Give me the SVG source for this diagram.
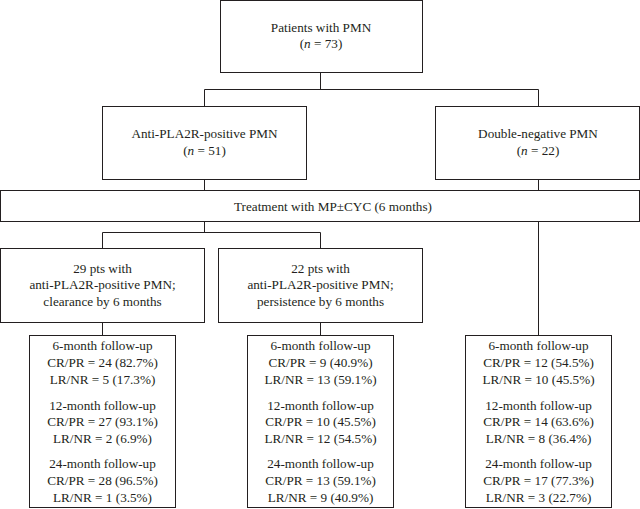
<svg xmlns="http://www.w3.org/2000/svg" width="640" height="509" viewBox="0 0 640 509">
<style>
.box{fill:#fff;stroke:#231f20;stroke-width:1}
.ln{fill:none;stroke:#231f20;stroke-width:1}
text{font-family:"Liberation Serif","Times New Roman",serif;font-size:13.2px;fill:#231f20;text-anchor:middle}
.i{font-style:italic}
</style>
<rect width="640" height="509" fill="#fff"/>
<g id="connectors" class="ln">
<path d="M320.5 72.5V89.5M204.5 106.5V89.5H538.5V106.5"/>
<path d="M204.5 179.5V190.5M538.5 179.5V190.5"/>
<path d="M204.5 221.5V232.5M102.5 248.5V232.5H320.5V248.5"/>
<path d="M102.5 322.5V335.5M320.5 322.5V335.5M538.5 221.5V335.5"/>
</g>
<g id="n_patients">
<rect class="box" x="220.5" y="0.5" width="202" height="72"/>
<text x="321" y="32">Patients with PMN</text>
<text x="321" y="48">(<tspan class="i">n</tspan> = 73)</text>
</g>
<g id="n_anti">
<rect class="box" x="102.5" y="106.5" width="204" height="73"/>
<text x="204.5" y="138">Anti-PLA2R-positive PMN</text>
<text x="204.5" y="155">(<tspan class="i">n</tspan> = 51)</text>
</g>
<g id="n_double">
<rect class="box" x="435.5" y="106.5" width="204" height="73"/>
<text x="538" y="138">Double-negative PMN</text>
<text x="538" y="155">(<tspan class="i">n</tspan> = 22)</text>
</g>
<g id="n_treatment">
<rect class="box" x="0.5" y="190.5" width="639" height="31"/>
<text x="333" y="211">Treatment with MP±CYC (6 months)</text>
</g>
<g id="n_clearance">
<rect class="box" x="0.5" y="248.5" width="204" height="74"/>
<text x="102.5" y="273">29 pts with</text>
<text x="102.5" y="289">anti-PLA2R-positive PMN;</text>
<text x="102.5" y="306">clearance by 6 months</text>
</g>
<g id="n_persistence">
<rect class="box" x="218.5" y="248.5" width="204" height="74"/>
<text x="320.5" y="273">22 pts with</text>
<text x="320.5" y="289">anti-PLA2R-positive PMN;</text>
<text x="320.5" y="306">persistence by 6 months</text>
</g>
<g id="n_fu_clearance">
<rect class="box" x="29.5" y="335.5" width="146" height="172"/>
<text x="102.5" y="350">6-month follow-up</text>
<text x="102.5" y="367">CR/PR = 24 (82.7%)</text>
<text x="102.5" y="384">LR/NR = 5 (17.3%)</text>
<text x="102.5" y="410">12-month follow-up</text>
<text x="102.5" y="426">CR/PR = 27 (93.1%)</text>
<text x="102.5" y="443">LR/NR = 2 (6.9%)</text>
<text x="102.5" y="468">24-month follow-up</text>
<text x="102.5" y="485">CR/PR = 28 (96.5%)</text>
<text x="102.5" y="502">LR/NR = 1 (3.5%)</text>
</g>
<g id="n_fu_persistence">
<rect class="box" x="247.5" y="335.5" width="146" height="172"/>
<text x="320.5" y="350">6-month follow-up</text>
<text x="320.5" y="367">CR/PR = 9 (40.9%)</text>
<text x="320.5" y="384">LR/NR = 13 (59.1%)</text>
<text x="320.5" y="410">12-month follow-up</text>
<text x="320.5" y="426">CR/PR = 10 (45.5%)</text>
<text x="320.5" y="443">LR/NR = 12 (54.5%)</text>
<text x="320.5" y="468">24-month follow-up</text>
<text x="320.5" y="485">CR/PR = 13 (59.1%)</text>
<text x="320.5" y="502">LR/NR = 9 (40.9%)</text>
</g>
<g id="n_fu_double">
<rect class="box" x="465.5" y="335.5" width="146" height="172"/>
<text x="538.5" y="350">6-month follow-up</text>
<text x="538.5" y="367">CR/PR = 12 (54.5%)</text>
<text x="538.5" y="384">LR/NR = 10 (45.5%)</text>
<text x="538.5" y="410">12-month follow-up</text>
<text x="538.5" y="426">CR/PR = 14 (63.6%)</text>
<text x="538.5" y="443">LR/NR = 8 (36.4%)</text>
<text x="538.5" y="468">24-month follow-up</text>
<text x="538.5" y="485">CR/PR = 17 (77.3%)</text>
<text x="538.5" y="502">LR/NR = 3 (22.7%)</text>
</g>
</svg>
